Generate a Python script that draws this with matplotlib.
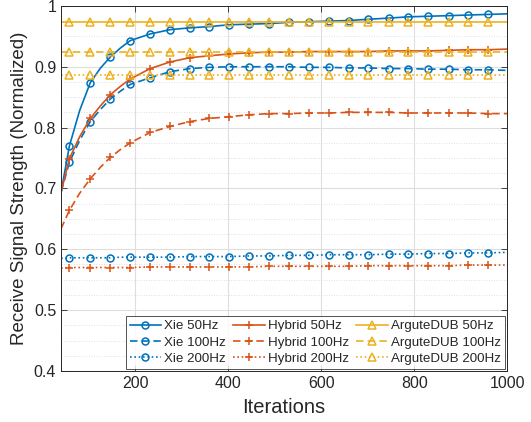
import matplotlib
matplotlib.use("Agg")
import matplotlib.pyplot as plt
from matplotlib.ticker import MultipleLocator

plt.rcParams['font.family'] = ['Liberation Sans', 'DejaVu Sans']

# Iteration positions where values were read (markers drawn at most of them)
iters = [40, 58, 80, 103, 125, 146, 168, 189, 232, 275, 318, 359, 402, 445,
         488, 531, 574, 617, 660, 701, 746, 787, 830, 875, 916, 959, 1000]
marker_idx = [1, 3, 5, 7, 8, 9, 10, 11, 12, 13, 14, 15, 16, 17, 18, 19, 20,
              21, 22, 23, 24, 25]

xie_50 = [0.694, 0.770, 0.828, 0.874, 0.898, 0.916, 0.931, 0.943, 0.954, 0.961,
          0.964, 0.966, 0.969, 0.970, 0.971, 0.973, 0.974, 0.975, 0.976, 0.978,
          0.980, 0.982, 0.983, 0.984, 0.985, 0.986, 0.987]
xie_100 = [0.694, 0.743, 0.779, 0.810, 0.830, 0.847, 0.860, 0.871, 0.882, 0.892,
           0.897, 0.899, 0.900, 0.900, 0.900, 0.900, 0.899, 0.899, 0.898, 0.898,
           0.897, 0.897, 0.896, 0.896, 0.895, 0.895, 0.894]
xie_200 = [0.585, 0.586, 0.586, 0.586, 0.586, 0.586, 0.587, 0.587, 0.587, 0.587,
           0.588, 0.588, 0.588, 0.589, 0.589, 0.590, 0.590, 0.591, 0.591, 0.591,
           0.592, 0.592, 0.593, 0.593, 0.594, 0.594, 0.595]
hyb_50 = [0.694, 0.749, 0.785, 0.815, 0.836, 0.854, 0.868, 0.880, 0.897, 0.908,
          0.915, 0.918, 0.921, 0.923, 0.924, 0.924, 0.925, 0.925, 0.925, 0.925,
          0.926, 0.926, 0.926, 0.927, 0.928, 0.928, 0.929]
hyb_100 = [0.634, 0.664, 0.692, 0.716, 0.735, 0.751, 0.764, 0.775, 0.792, 0.802,
           0.810, 0.815, 0.818, 0.821, 0.823, 0.823, 0.824, 0.824, 0.825, 0.825,
           0.825, 0.824, 0.824, 0.824, 0.824, 0.823, 0.823]
hyb_200 = [0.569, 0.570, 0.570, 0.570, 0.570, 0.570, 0.570, 0.570, 0.571, 0.571,
           0.571, 0.571, 0.571, 0.571, 0.572, 0.572, 0.572, 0.572, 0.572, 0.573,
           0.573, 0.573, 0.573, 0.573, 0.574, 0.574, 0.574]
arg_50 = [0.973] * len(iters)
arg_100 = [0.924] * len(iters)
arg_200 = [0.887] * len(iters)

labels = ['Xie 50Hz', 'Xie 100Hz', 'Xie 200Hz',
          'Hybrid 50Hz', 'Hybrid 100Hz', 'Hybrid 200Hz',
          'ArguteDUB 50Hz', 'ArguteDUB 100Hz', 'ArguteDUB 200Hz']
x_ticks = [200, 400, 600, 800, 1000]
y_ticks = [0.4, 0.5, 0.6, 0.7, 0.8, 0.9, 1.0]
y_ticklabels = ['0.4', '0.5', '0.6', '0.7', '0.8', '0.9', '1']

blue, red, yellow = '#0072BD', '#D95319', '#EDB120'
solid, dashed, dotted = '-', (0, (4.5, 2.5)), (0, (1, 1.6))

series = [
    (xie_50, blue, solid, 'o'), (xie_100, blue, dashed, 'o'), (xie_200, blue, dotted, 'o'),
    (hyb_50, red, solid, '+'), (hyb_100, red, dashed, '+'), (hyb_200, red, dotted, '+'),
    (arg_50, yellow, solid, '^'), (arg_100, yellow, dashed, '^'), (arg_200, yellow, dotted, '^'),
]
msizes = {'o': 5, '+': 6, '^': 5.5}

fig = plt.figure(figsize=(5.31, 4.22), dpi=100)
ax = fig.add_axes([0.115, 0.121, 0.84, 0.865])

for (vals, c, ls, m), lab in zip(series, labels):
    ax.plot(iters, vals, color=c, linestyle=ls, linewidth=1.2, marker=m,
            markersize=msizes[m], markerfacecolor='none', markeredgecolor=c,
            markeredgewidth=1.1, markevery=marker_idx, label=lab)

ax.set_xlim(40, 1000)
ax.set_ylim(0.4, 1.0)
ax.set_xticks(x_ticks)
ax.set_yticks(y_ticks)
ax.set_yticklabels(y_ticklabels)
ax.yaxis.set_minor_locator(MultipleLocator(0.025))

ax.grid(True, which='major', color='#dedede', linewidth=0.8, linestyle='-')
ax.grid(True, which='minor', axis='y', color='#d6d6d6', linewidth=0.6, linestyle=(0, (1, 2)))
ax.set_axisbelow(True)

ax.tick_params(which='major', direction='in', top=True, right=True, length=4,
               width=0.6, colors='#262626', labelsize=11.5, labelcolor='#262626')
ax.tick_params(which='minor', direction='in', length=0, left=False, right=False)
for s in ax.spines.values():
    s.set_color('#262626')
    s.set_linewidth(0.7)

ax.set_xlabel('Iterations', fontsize=14.5, color='#262626', labelpad=5)
ax.set_ylabel('Receive Signal Strength (Normalized)', fontsize=13.5, color='#262626', labelpad=4)

leg = ax.legend(loc='lower right', ncol=3, fontsize=9.6, frameon=True, fancybox=False,
                borderaxespad=0.15, handlelength=2.35, handletextpad=0.25,
                columnspacing=0.55, labelspacing=0.3, borderpad=0.3)
leg.get_frame().set_edgecolor('#262626')
leg.get_frame().set_linewidth(0.7)
for t in leg.get_texts():
    t.set_color('#262626')

fig.savefig('out.png', dpi=100)
